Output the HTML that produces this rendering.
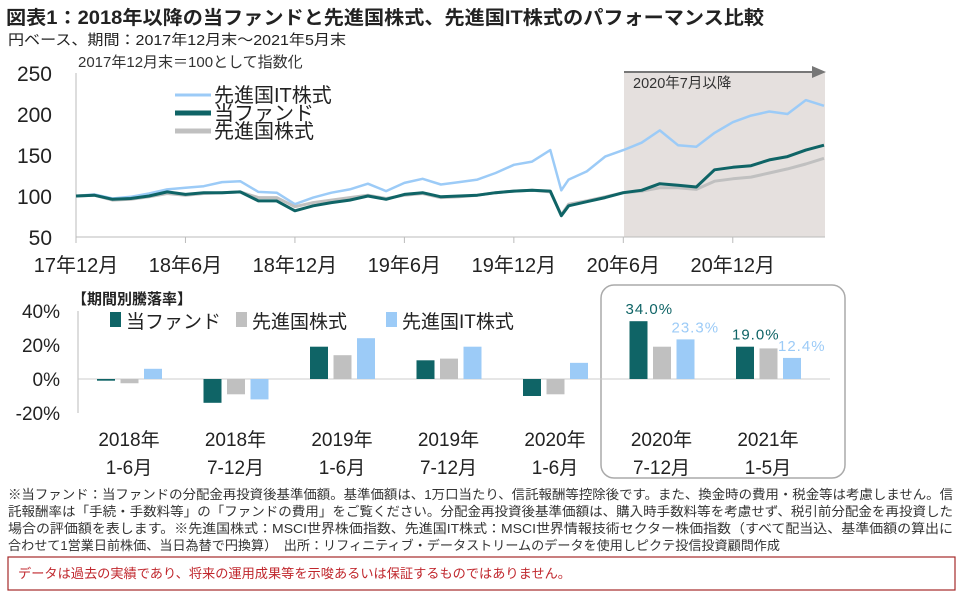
<!DOCTYPE html>
<html><head><meta charset="utf-8"><style>
body{margin:0;background:#fff;}
svg{display:block;font-family:"Liberation Sans","Noto Sans CJK JP",sans-serif;}
</style></head><body>
<svg id="c" width="966" height="594" viewBox="0 0 966 594">
<text x="6" y="24" font-size="19" font-weight="bold" fill="#222" textLength="758" lengthAdjust="spacingAndGlyphs">図表1：2018年以降の当ファンドと先進国株式、先進国IT株式のパフォーマンス比較</text>
<text x="8" y="45" font-size="14.5" fill="#222" textLength="338" lengthAdjust="spacingAndGlyphs">円ベース、期間：2017年12月末～2021年5月末</text>
<text x="78" y="67" font-size="15" fill="#333">2017年12月末＝100として指数化</text>
<rect x="624" y="72" width="201" height="165" fill="#e5e0de"/>
<line x1="624" y1="72" x2="814" y2="72" stroke="#777" stroke-width="2"/>
<polygon points="812,66 826,72 812,78" fill="#777"/>
<text x="633" y="88" font-size="14.5" fill="#333">2020年7月以降</text>
<g id="lineAxes"></g>
<g id="lines"></g>
<g>
<line x1="175" y1="95" x2="211" y2="95" stroke="#9ccbf7" stroke-width="3"/>
<text x="214" y="102" font-size="20" fill="#222">先進国IT株式</text>
<line x1="175" y1="113" x2="211" y2="113" stroke="#0f6466" stroke-width="5"/>
<text x="214" y="120" font-size="20" fill="#222">当ファンド</text>
<line x1="175" y1="131" x2="211" y2="131" stroke="#c0c0c0" stroke-width="5"/>
<text x="214" y="138" font-size="20" fill="#222">先進国株式</text>
</g>
<rect x="601" y="285" width="244" height="193" rx="13" fill="none" stroke="#aaa" stroke-width="1.5"/>
<text x="72" y="304" font-size="15" font-weight="bold" fill="#222">【期間別騰落率】</text>
<g>
<rect x="110" y="312" width="11" height="15" fill="#0f6466"/>
<text x="126" y="328" font-size="19" fill="#222">当ファンド</text>
<rect x="236" y="312" width="11" height="15" fill="#c0c0c0"/>
<text x="252" y="328" font-size="19" fill="#222">先進国株式</text>
<rect x="386" y="312" width="11" height="15" fill="#9ccbf7"/>
<text x="402" y="328" font-size="19" fill="#222">先進国IT株式</text>
</g>
<g id="bars"></g>
<g font-size="13" fill="#333">
<text x="8" y="499" textLength="945" lengthAdjust="spacingAndGlyphs">※当ファンド：当ファンドの分配金再投資後基準価額。基準価額は、1万口当たり、信託報酬等控除後です。また、換金時の費用・税金等は考慮しません。信</text>
<text x="8" y="516" textLength="945" lengthAdjust="spacingAndGlyphs">託報酬率は「手続・手数料等」の「ファンドの費用」をご覧ください。分配金再投資後基準価額は、購入時手数料等を考慮せず、税引前分配金を再投資した</text>
<text x="8" y="533" textLength="945" lengthAdjust="spacingAndGlyphs">場合の評価額を表します。※先進国株式：MSCI世界株価指数、先進国IT株式：MSCI世界情報技術セクター株価指数（すべて配当込、基準価額の算出に</text>
<text x="8" y="550" textLength="772" lengthAdjust="spacingAndGlyphs">合わせて1営業日前株価、当日為替で円換算）　出所：リフィニティブ・データストリームのデータを使用しピクテ投信投資顧問作成</text>
</g>
<rect x="8" y="557" width="947" height="33" fill="none" stroke="#a52a2a" stroke-width="1.2"/>
<text x="18" y="578" font-size="13" fill="#c0272d" textLength="553" lengthAdjust="spacingAndGlyphs">データは過去の実績であり、将来の運用成果等を示唆あるいは保証するものではありません。</text>
</svg>
<script>
// ---- line chart data ----
const months = [0,1,2,3,4,5,6,7,8,9,10,11,12,13,14,15,16,17,18,19,20,21,22,23,24,25,26,26.6,27,28,29,30,31,32,33,34,35,36,37,38,39,40,41];
const itSeries = [100,102,97,99,103,108,110,112,117,118,105,104,90,98,104,108,115,106,116,121,114,117,120,128,138,142,156,107,120,130,148,156,165,180,162,160,177,190,198,203,200,217,210];
const fundSeries = [100,101,96,97,100,105,102,104,104,105,94,94,82,88,92,95,100,96,102,104,99,100,101,104,106,107,106,76,88,93,98,104,107,115,113,111,132,135,137,144,148,156,162];
const worldSeries = [100,101,95,96,99,103,101,103,104,105,98,98,87,92,95,98,101,97,101,103,98,99,101,104,106,107,105,77,90,94,99,104,106,110,110,108,118,121,123,128,133,139,146];
const yTicks = [50,100,150,200,250];
const xTickMonths = [0,6,12,18,24,30,36];
const xTickLabels = ["17年12月","18年6月","18年12月","19年6月","19年12月","20年6月","20年12月"];
// ---- bar chart data ----
const periods1 = ["2018年","2018年","2019年","2019年","2020年","2020年","2021年"];
const periods2 = ["1-6月","7-12月","1-6月","7-12月","1-6月","7-12月","1-5月"];
const fundRet = [-1,-14,19,11,-10,34.0,19.0];
const worldRet = [-2.5,-9,14,12,-9,19,18];
const itRet = [6,-12,24,19,9.5,23.3,12.4];
const barTicks = [-20,0,20,40];

const NS="http://www.w3.org/2000/svg";
function mk(t,a,p){const e=document.createElementNS(NS,t);for(const k in a)e.setAttribute(k,a[k]);p.appendChild(e);return e;}
const xL=m=>76+m*(824-76)/41;
const yL=v=>237-(v-50)*(164/200);
const la=document.getElementById('lineAxes');
let ax=mk('line',{x1:76,y1:73,x2:76,y2:237,stroke:'#bbb'},la);


ax=mk('line',{x1:76,y1:237,x2:825,y2:237,stroke:'#bbb'},la);


yTicks.forEach(v=>{const t=mk('text',{x:52,y:yL(v)+8,'font-size':21,'text-anchor':'end',fill:'#222'},la);t.textContent=v;

});
xTickMonths.forEach((m,i)=>{const l=mk('line',{x1:xL(m),y1:237,x2:xL(m),y2:243,stroke:'#bbb'},la);


const t=mk('text',{x:xL(m),y:272,'font-size':20,'text-anchor':'middle',fill:'#222'},la);t.textContent=xTickLabels[i];

});
const lg=document.getElementById('lines');
function line(vals,col,w,name){const d=vals.map((v,i)=>(i?'L':'M')+xL(months[i]).toFixed(1)+','+yL(v).toFixed(1)).join('');
const p=mk('path',{d:d,fill:'none',stroke:col,'stroke-width':w,'stroke-linejoin':'round'},lg);

}
line(itSeries,'#9ccbf7',2.5,'it-line');
line(worldSeries,'#c0c0c0',3,'world-line');
line(fundSeries,'#0f6466',3,'fund-line');

const yB=v=>379-v*1.7;
const bg=document.getElementById('bars');
let b=mk('line',{x1:78,y1:yB(40),x2:78,y2:yB(-20),stroke:'#bbb'},bg);


b=mk('line',{x1:78,y1:379,x2:830,y2:379,stroke:'#ccc'},bg);


barTicks.forEach(v=>{const t=mk('text',{x:60,y:yB(v)+7,'font-size':19,'text-anchor':'end',fill:'#222'},bg);t.textContent=v+'%';

});
const series=[[fundRet,'#0f6466','fund'],[worldRet,'#c0c0c0','world'],[itRet,'#9ccbf7','it']];
periods1.forEach((p,i)=>{const cx=129+i*106.5;
series.forEach((s,j)=>{const v=s[0][i];const x=cx-32+j*23.5;
const r=mk('rect',{x:x,y:Math.min(yB(v),379),width:18,height:Math.abs(yB(v)-379),fill:s[1]},bg);

});
let t=mk('text',{x:cx,y:446,'font-size':19,'text-anchor':'middle',fill:'#222'},bg);t.textContent=p;


t=mk('text',{x:cx,y:474,'font-size':19,'text-anchor':'middle',fill:'#222'},bg);t.textContent=periods2[i];


if(i>=5){
 let l=mk('text',{x:cx-36,y:yB(fundRet[i])-7,'font-size':15,fill:'#0f6466','letter-spacing':'1'},bg);l.textContent=fundRet[i].toFixed(1)+'%';
 
 
 l=mk('text',{x:cx+10,y:yB(itRet[i])-7,'font-size':15,fill:'#9ccbf7','letter-spacing':'1'},bg);l.textContent=itRet[i].toFixed(1)+'%';
 
 
}});
</script>
</body></html>
